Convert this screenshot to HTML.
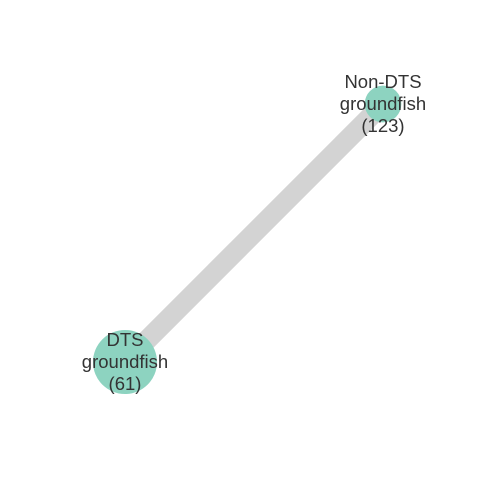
<!DOCTYPE html>
<html>
<head>
<meta charset="utf-8">
<style>
html,body{margin:0;padding:0;background:#fff;}
svg{display:block;}
text{font-family:"Liberation Sans",sans-serif;font-size:18.5px;fill:#333;}
</style>
</head>
<body>
<svg id="chart" width="480" height="480" viewBox="0 0 480 480"></svg>
<script>
const nodeNames = ["DTS groundfish", "Non-DTS groundfish"];
const nodeLabels = [["DTS", "groundfish", "(61)"], ["Non-DTS", "groundfish", "(123)"]];
const nodeX = [0.0, 1.0];
const nodeY = [0.0, 1.0];
const nodeSize = [61, 20];
const edgeFrom = [0];
const edgeTo = [1];
const edgeWeight = [1];

const svg = document.getElementById('chart');
const NS = 'http://www.w3.org/2000/svg';
const sx = v => 125 + v * (383 - 125);
const sy = v => 362 - v * (362 - 104);
const sr = s => Math.sqrt(s) * 4.1;

edgeFrom.forEach((f, i) => {
  const t = edgeTo[i];
  const l = document.createElementNS(NS, 'line');
  
  
  l.setAttribute('x1', sx(nodeX[f])); l.setAttribute('y1', sy(nodeY[f]));
  l.setAttribute('x2', sx(nodeX[t])); l.setAttribute('y2', sy(nodeY[t]));
  l.setAttribute('stroke', '#d3d3d3');
  l.setAttribute('stroke-width', 20 * edgeWeight[i]);
  svg.appendChild(l);
});

nodeNames.forEach((n, i) => {
  const c = document.createElementNS(NS, 'circle');
  
  
  c.setAttribute('cx', sx(nodeX[i])); c.setAttribute('cy', sy(nodeY[i]));
  c.setAttribute('r', sr(nodeSize[i]));
  c.setAttribute('fill', '#8dd3c0');
  svg.appendChild(c);
});

nodeNames.forEach((n, i) => {
  const t = document.createElementNS(NS, 'text');
  
  
  t.setAttribute('text-anchor', 'middle');
  const cx = sx(nodeX[i]), cy = sy(nodeY[i]);
  nodeLabels[i].forEach((line, j) => {
    const ts = document.createElementNS(NS, 'tspan');
    ts.setAttribute('x', cx);
    ts.setAttribute('y', cy + (j - 1) * 22 + 6);
    ts.textContent = line;
    t.appendChild(ts);
  });
  svg.appendChild(t);
});
</script>
</body>
</html>
